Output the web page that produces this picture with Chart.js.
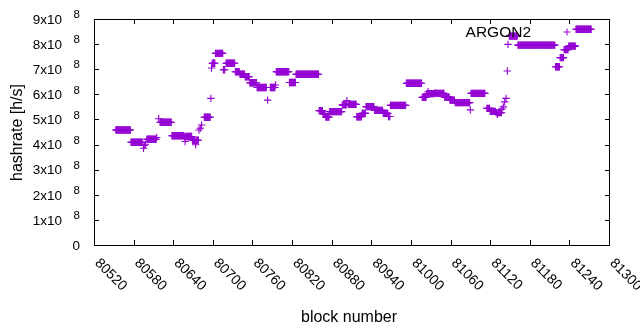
<!DOCTYPE html>
<html>
<head>
<meta charset="utf-8">
<script src="https://cdn.jsdelivr.net/npm/chart.js@4/dist/chart.umd.min.js"></script>
<style>
  html, body { margin: 0; padding: 0; background: #fff; }
  canvas { display: block; }
</style>
</head>
<body>
<canvas id="rateChart" width="640" height="330"></canvas>
<script>
// hashrate per block, run-length: blocks runStart..runEnd share the value runValue (x10^8 h/s)
let runStart = [80553, 80576, 80595, 80596, 80598, 80600, 80615, 80618, 80620, 80638, 80657, 80658, 80659, 80669, 80674, 80675, 80679, 80681, 80683, 80687,
    80697, 80698, 80699, 80704, 80716, 80720, 80734, 80741, 80749, 80756, 80767, 80783, 80787, 80795, 80796, 80816, 80826, 80861, 80867, 80871,
    80877, 80896, 80903, 80905, 80918, 80926, 80932, 80945, 80958, 80966, 80969, 80993, 81017, 81024, 81026, 81027, 81036, 81039, 81051, 81059,
    81067, 81090, 81091, 81115, 81120, 81129, 81131, 81132, 81138, 81140, 81142, 81144, 81146, 81147, 81149, 81162, 81219, 81226, 81232, 81239, 81250];
let runEnd = [80575, 80593, 80595, 80596, 80598, 80614, 80615, 80618, 80637, 80656, 80657, 80658, 80668, 80673, 80674, 80678, 80679, 80681, 80683, 80696,
    80697, 80698, 80703, 80715, 80718, 80733, 80740, 80748, 80755, 80766, 80781, 80783, 80794, 80795, 80815, 80825, 80860, 80866, 80870, 80876,
    80895, 80902, 80903, 80917, 80925, 80931, 80944, 80957, 80965, 80968, 80992, 81016, 81023, 81025, 81026, 81035, 81038, 81050, 81058, 81066,
    81089, 81090, 81112, 81119, 81128, 81130, 81131, 81137, 81138, 81140, 81142, 81144, 81146, 81147, 81161, 81218, 81225, 81231, 81238, 81249, 81273];
let runValue = [4.58, 4.09, 3.85, 3.96, 4.01, 4.21, 4.28, 5.03, 4.89, 4.35, 4.30, 4.12, 4.32, 4.17, 3.99, 4.17, 4.58, 4.65, 4.78, 5.09,
    5.84, 7.05, 7.24, 7.63, 6.98, 7.24, 6.90, 6.80, 6.70, 6.46, 6.27, 5.77, 6.27, 6.37, 6.90, 6.47, 6.80, 5.35, 5.22, 5.10,
    5.31, 5.58, 5.75, 5.60, 5.11, 5.24, 5.51, 5.36, 5.24, 5.12, 5.56, 6.44, 5.88, 6.03, 6.10, 6.03, 6.05, 6.04, 5.89, 5.77,
    5.67, 5.38, 6.04, 5.44, 5.32, 5.27, 5.20, 5.27, 5.42, 5.50, 5.70, 5.84, 6.93, 7.99, 8.32, 7.96, 7.10, 7.46, 7.78, 7.92, 8.59];

let xMin = 80520, xMax = 81300, xStep = 60;
let yMin = 0, yMax = 9, yStep = 1;
let seriesName = "ARGON2";
let xTitle = "block number";
let yTitle = "hashrate [h/s]";

const violet = "#9400d3";
const font = '"Liberation Sans", Arial, sans-serif';

let points = [];
for (let i = 0; i < runStart.length; i++) {
    for (let b = runStart[i]; b <= runEnd[i]; b++) {
        points.push({ x: b, y: runValue[i] });
    }
}

// gnuplot style frame, inward ticks, labels and key
const gnuFrame = {
    id: "gnuFrame",
    afterDraw(chart) {
        const ctx = chart.ctx;
        const a = chart.chartArea;
        const x = chart.scales.x, y = chart.scales.y;
        ctx.save();
        ctx.strokeStyle = "#000";
        ctx.lineWidth = 1;
        ctx.strokeRect(a.left + 0.5, a.top + 0.5, a.right - a.left, a.bottom - a.top);

        ctx.beginPath();
        x.ticks.forEach(t => {
            let px = Math.round(x.getPixelForValue(t.value)) + 0.5;
            ctx.moveTo(px, a.bottom); ctx.lineTo(px, a.bottom - 5);
            ctx.moveTo(px, a.top); ctx.lineTo(px, a.top + 5);
        });
        y.ticks.forEach(t => {
            let py = Math.round(y.getPixelForValue(t.value)) + 0.5;
            ctx.moveTo(a.left, py); ctx.lineTo(a.left + 5, py);
            ctx.moveTo(a.right + 1, py); ctx.lineTo(a.right - 4, py);
        });
        ctx.stroke();

        ctx.fillStyle = "#000";
        // y tick labels
        y.ticks.forEach(t => {
            let py = y.getPixelForValue(t.value);
            ctx.textBaseline = "alphabetic";
            if (t.value === 0) {
                ctx.font = "13.5px " + font;
                ctx.textAlign = "right";
                ctx.fillText("0", 80, py + 4.8);
            } else {
                ctx.font = "13.5px " + font;
                ctx.textAlign = "right";
                ctx.fillText(t.value + "x10", 62, py + 4.8);
                ctx.font = "11.5px " + font;
                ctx.textAlign = "left";
                ctx.fillText("8", 73.5, py - 0.8);
            }
        });

        // x tick labels, rotated
        ctx.font = "14px " + font;
        x.ticks.forEach(t => {
            let px = x.getPixelForValue(t.value);
            ctx.save();
            ctx.translate(px + 3, 261);
            ctx.rotate(Math.PI / 4);
            ctx.textAlign = "left";
            ctx.textBaseline = "middle";
            ctx.fillText(String(t.value), 0, 0);
            ctx.restore();
        });

        // axis titles
        ctx.font = "16px " + font;
        ctx.textAlign = "center";
        ctx.textBaseline = "alphabetic";
        ctx.fillText(xTitle, 349, 321.5);
        ctx.save();
        ctx.translate(21.7, 132.5);
        ctx.rotate(-Math.PI / 2);
        ctx.fillText(yTitle, 0, 0);
        ctx.restore();

        // key
        ctx.font = "15.5px " + font;
        ctx.textAlign = "right";
        ctx.fillText(seriesName, 531, 36.5);
        ctx.strokeStyle = violet;
        ctx.beginPath();
        ctx.moveTo(567, 28.5); ctx.lineTo(567, 35.5);
        ctx.moveTo(563.5, 32); ctx.lineTo(570.5, 32);
        ctx.stroke();
        ctx.restore();
    }
};

let rateCtx = document.getElementById("rateChart").getContext("2d");

let rateChart = new Chart(rateCtx, {
    type: "scatter",
    data: {
        datasets: [{
            label: seriesName,
            data: points,
            pointStyle: "cross",
            pointRadius: 3.7,
            pointBorderWidth: 1.1,
            borderColor: violet,
            backgroundColor: violet
        }]
    },
    options: {
        responsive: false,
        animation: false,
        events: [],
        layout: { autoPadding: false, padding: { top: 19, right: 31, left: 0, bottom: 0 } },
        plugins: { legend: { display: false }, tooltip: { enabled: false } },
        scales: {
            x: {
                type: "linear",
                min: xMin, max: xMax,
                ticks: { stepSize: xStep, display: false },
                grid: { display: false },
                border: { display: false },
                afterFit: s => { s.height = 85; }
            },
            y: {
                min: yMin, max: yMax,
                ticks: { stepSize: yStep, display: false },
                grid: { display: false },
                border: { display: false },
                afterFit: s => { s.width = 94; }
            }
        }
    },
    plugins: [gnuFrame]
});
</script>
</body>
</html>
